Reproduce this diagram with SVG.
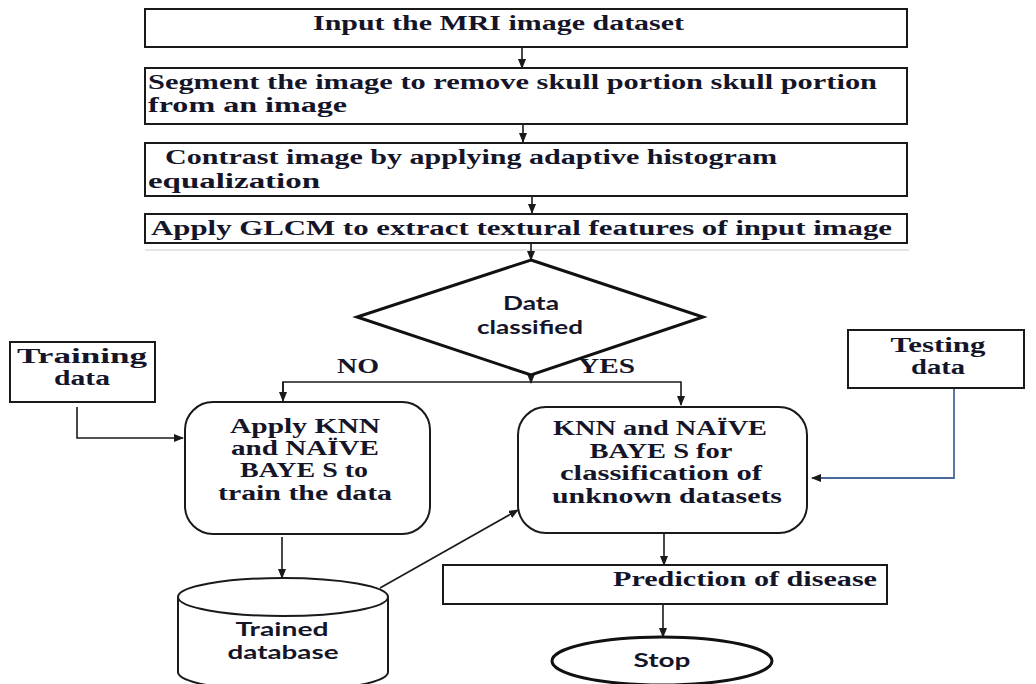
<svg xmlns="http://www.w3.org/2000/svg" width="1036" height="684" viewBox="0 0 1036 684">
  <style>
    .box { fill: #fff; stroke: #1a1a1a; stroke-width: 2; }
    .thick { fill: #fff; stroke: #111; stroke-width: 3; }
    .line { fill: none; stroke: #1a1a1a; stroke-width: 1.6; }
    .blue { fill: none; stroke: #4a6a9a; stroke-width: 1.8; }
    .t { font-family: "Liberation Serif", "Times New Roman", serif; font-weight: bold; font-size: 20px; fill: #15152a; }
    .s { font-family: Lato, "Liberation Sans", sans-serif; font-weight: bold; font-size: 18px; fill: #15152a; }
    .c { text-anchor: middle; }
  </style>
  <defs>
    <marker id="arrow" markerWidth="10" markerHeight="8" refX="9" refY="4" orient="auto" markerUnits="userSpaceOnUse">
      <path d="M0,0 L10,4 L0,8 Z" fill="#1a1a1a"/>
    </marker>
  </defs>

  <rect x="0" y="0" width="1036" height="684" fill="#fff"/>
  <!-- faint rule below the feature-extraction step -->
  <line x1="145" y1="250" x2="909" y2="250" stroke="#dcdcdc" stroke-width="1.5"/>

  <g id="connectors">
    <line class="line" x1="522" y1="47" x2="522" y2="68" marker-end="url(#arrow)"/>
    <line class="line" x1="523" y1="124" x2="523" y2="142" marker-end="url(#arrow)"/>
    <line class="line" x1="532" y1="196" x2="532" y2="213" marker-end="url(#arrow)"/>
    <line class="line" x1="531" y1="243" x2="531" y2="260" marker-end="url(#arrow)"/>
    <line class="line" x1="531" y1="374" x2="531" y2="383" marker-end="url(#arrow)"/>
    <polyline class="line" points="283,400 283,382 681,382 681,405" marker-end="url(#arrow)"/>
    <line class="line" x1="283" y1="382" x2="283" y2="401" marker-end="url(#arrow)"/>
    <polyline class="line" points="77,407 77,438 183,438" marker-end="url(#arrow)"/>
    <polyline class="blue" points="954,388 954,478 812,478" marker-end="url(#arrow)"/>
    <line class="line" x1="282" y1="537" x2="282" y2="578" marker-end="url(#arrow)"/>
    <line class="line" x1="380" y1="588" x2="518" y2="510" marker-end="url(#arrow)"/>
    <line class="line" x1="664" y1="533" x2="664" y2="565" marker-end="url(#arrow)"/>
    <line class="line" x1="663" y1="604" x2="663" y2="637" marker-end="url(#arrow)"/>
  </g>

  <g id="input">
    <rect class="box" x="145" y="9" width="762" height="38"/>
    <text class="t" x="313" y="30" textLength="371" lengthAdjust="spacingAndGlyphs">Input the MRI image dataset</text>
  </g>

  <g id="segment">
    <rect class="box" x="145" y="68" width="762" height="56"/>
    <text class="t" x="148" y="89" textLength="729" lengthAdjust="spacingAndGlyphs">Segment the image to remove skull portion skull portion</text>
    <text class="t" x="148" y="112" textLength="199" lengthAdjust="spacingAndGlyphs">from an image</text>
  </g>

  <g id="contrast">
    <rect class="box" x="145" y="143" width="762" height="53"/>
    <text class="t" x="165" y="164" textLength="612" lengthAdjust="spacingAndGlyphs">Contrast image by applying adaptive histogram</text>
    <text class="t" x="148" y="188" textLength="172" lengthAdjust="spacingAndGlyphs">equalization</text>
  </g>

  <g id="glcm">
    <rect class="box" x="145" y="214" width="762" height="29"/>
    <text class="t" x="151" y="235" textLength="741" lengthAdjust="spacingAndGlyphs">Apply GLCM to extract textural features of input image</text>
  </g>

  <g id="decision">
    <polygon class="thick" points="531,260 703,317 531,375 357,317"/>
    <text class="s c" x="531" y="310" textLength="56" lengthAdjust="spacingAndGlyphs">Data</text>
    <text class="s c" x="530" y="334" textLength="106" lengthAdjust="spacingAndGlyphs">classified</text>
  </g>

  <g id="label-no">
    <text class="t" x="337" y="373" textLength="42" lengthAdjust="spacingAndGlyphs">NO</text>
  </g>
  <g id="label-yes">
    <text class="t" x="578" y="373" textLength="57" lengthAdjust="spacingAndGlyphs">YES</text>
  </g>

  <g id="training">
    <rect class="box" x="10" y="342" width="145" height="60"/>
    <text class="t c" x="82" y="363" textLength="130" lengthAdjust="spacingAndGlyphs">Training</text>
    <text class="t c" x="82" y="385" textLength="56" lengthAdjust="spacingAndGlyphs">data</text>
  </g>

  <g id="testing">
    <rect class="box" x="848" y="330" width="176" height="58"/>
    <text class="t c" x="938" y="352" textLength="95" lengthAdjust="spacingAndGlyphs">Testing</text>
    <text class="t c" x="938" y="374" textLength="54" lengthAdjust="spacingAndGlyphs">data</text>
  </g>

  <g id="train-model">
    <rect class="box" x="185" y="402" width="245" height="132" rx="28" ry="28"/>
    <text class="t c" x="305" y="433" textLength="150" lengthAdjust="spacingAndGlyphs">Apply KNN</text>
    <text class="t c" x="305" y="455" textLength="148" lengthAdjust="spacingAndGlyphs">and NAÏVE</text>
    <text class="t c" x="304" y="477" textLength="128" lengthAdjust="spacingAndGlyphs">BAYE S to</text>
    <text class="t c" x="305" y="500" textLength="174" lengthAdjust="spacingAndGlyphs">train the data</text>
  </g>

  <g id="classify">
    <rect class="box" x="518" y="407" width="289" height="126" rx="28" ry="28"/>
    <text class="t c" x="660" y="435" textLength="214" lengthAdjust="spacingAndGlyphs">KNN and NAÏVE</text>
    <text class="t c" x="661" y="458" textLength="143" lengthAdjust="spacingAndGlyphs">BAYE S for</text>
    <text class="t c" x="661" y="480" textLength="202" lengthAdjust="spacingAndGlyphs">classification of</text>
    <text class="t c" x="667" y="503" textLength="230" lengthAdjust="spacingAndGlyphs">unknown datasets</text>
  </g>

  <g id="database">
    <path class="box" d="M178,597 L178,672 A105,19 0 0 0 388,672 L388,597"/>
    <ellipse class="box" cx="283" cy="597" rx="105" ry="19"/>
    <text class="s c" x="282" y="636" textLength="93" lengthAdjust="spacingAndGlyphs">Trained</text>
    <text class="s c" x="283" y="659" textLength="111" lengthAdjust="spacingAndGlyphs">database</text>
  </g>

  <g id="prediction">
    <rect class="box" x="443" y="565" width="444" height="39"/>
    <text class="t" x="613" y="586" textLength="264" lengthAdjust="spacingAndGlyphs">Prediction of disease</text>
  </g>

  <g id="stop">
    <ellipse class="thick" cx="662" cy="661" rx="110" ry="24"/>
    <text class="s c" x="662" y="667" textLength="57" lengthAdjust="spacingAndGlyphs">Stop</text>
  </g>
</svg>
